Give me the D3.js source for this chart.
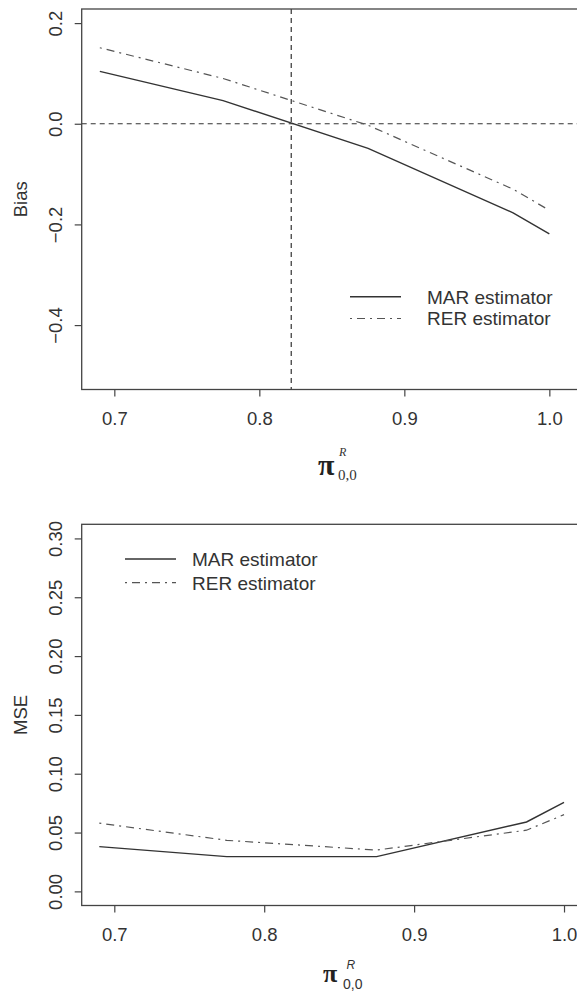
<!DOCTYPE html>
<html>
<head>
<meta charset="utf-8">
<script src="https://cdn.jsdelivr.net/npm/d3@7"></script>
<style>
  body { margin: 0; background: #fff; overflow: hidden; }
  svg { display: block; }
  .tick text { font-family: "Liberation Sans", Arial, sans-serif; font-size: 18.5px; fill: #333; }
  .tick line { stroke: #444; stroke-width: 1.2; }
</style>
</head>
<body>
<div id="chart"></div>
<script>
// values
var piValues = [0.69, 0.775, 0.875, 0.975, 1.0];
var biasMAR = [0.104, 0.046, -0.049, -0.177, -0.219];
var biasRER = [0.151, 0.090, -0.003, -0.130, -0.172];
var mseMAR = [0.038, 0.0295, 0.0295, 0.059, 0.0757];
var mseRER = [0.058, 0.0434, 0.0351, 0.052, 0.0652];
var biasRefX = 0.822;
var biasRefY = 0;
var xTicks = [0.7, 0.8, 0.9, 1.0];
var biasTicks = [-0.4, -0.2, 0.0, 0.2];
var mseTicks = [0.00, 0.05, 0.10, 0.15, 0.20, 0.25, 0.30];
var seriesNames = ["MAR estimator", "RER estimator"];

var W = 577, H = 994;
var svg = d3.select("#chart").append("svg")
    .attr("width", W)
    .attr("height", H);

var solidStyle = { stroke: "#333", width: 1.4, dash: null };
var dotDashStyle = { stroke: "#555", width: 1.2, dash: "2,5,8,5" };

function drawPanel(p) {
    var g = svg.append("g");
    var x = p.x, y = p.y;
    var x0 = x.range()[0], x1 = x.range()[1];
    var yb = y.range()[0], yt = y.range()[1];

    // x axis
    g.append("g")
        .attr("transform", "translate(0," + yb + ")")
        .call(d3.axisBottom(x).tickValues(xTicks).tickSize(7).tickPadding(15)
            .tickFormat(d3.format(".1f")))
        .call(function (a) { a.select(".domain").remove(); });

    // y axis, labels rotated like R's default
    var ya = g.append("g")
        .attr("transform", "translate(" + x0 + ",0)")
        .call(d3.axisLeft(y).tickValues(p.yTicks).tickSize(7).tickFormat(p.yFormat))
        .call(function (a) { a.select(".domain").remove(); });
    ya.selectAll(".tick text")
        .attr("x", null).attr("dy", null)
        .attr("text-anchor", "middle")
        .attr("transform", "translate(-20,0) rotate(-90)");

    // reference lines
    if (p.refX != null) {
        g.append("line")
            .attr("x1", x(p.refX)).attr("x2", x(p.refX))
            .attr("y1", yt).attr("y2", yb)
            .attr("stroke", "#333").attr("stroke-width", 1.2)
            .attr("stroke-dasharray", "5,4");
    }
    if (p.refY != null) {
        g.append("line")
            .attr("x1", x0).attr("x2", x1)
            .attr("y1", y(p.refY)).attr("y2", y(p.refY))
            .attr("stroke", "#333").attr("stroke-width", 1.2)
            .attr("stroke-dasharray", "5,4");
    }

    var line = d3.line()
        .x(function (d) { return x(d[0]); })
        .y(function (d) { return y(d[1]); });

    p.series.forEach(function (s) {
        g.append("path")
            .datum(piValues.map(function (v, i) { return [v, s.values[i]]; }))
            .attr("fill", "none")
            .attr("stroke", s.style.stroke)
            .attr("stroke-width", s.style.width)
            .attr("stroke-dasharray", s.style.dash)
            .attr("d", line);
    });

    // frame (right side runs off the page, as in the cropped original)
    g.append("rect")
        .attr("x", x0).attr("y", yt)
        .attr("width", x1 - x0).attr("height", yb - yt)
        .attr("fill", "none").attr("stroke", "#444").attr("stroke-width", 1.3);

    // legend
    p.series.forEach(function (s, i) {
        var ly = p.legend.y[i];
        g.append("line")
            .attr("x1", p.legend.x1).attr("x2", p.legend.x2)
            .attr("y1", ly).attr("y2", ly)
            .attr("stroke", s.style.stroke)
            .attr("stroke-width", s.style.width)
            .attr("stroke-dasharray", s.style.dash);
        g.append("text")
            .attr("x", p.legend.tx).attr("y", ly).attr("dy", "0.36em")
            .style("font-family", "'Liberation Sans', Arial, sans-serif")
            .style("font-size", "19px").style("fill", "#333")
            .text(s.name);
    });

    // y title
    g.append("text")
        .attr("transform", "translate(27," + ((yt + yb) / 2) + ") rotate(-90)")
        .attr("text-anchor", "middle")
        .style("font-family", "'Liberation Sans', Arial, sans-serif")
        .style("font-size", "18.5px").style("fill", "#333")
        .text(p.yTitle);

    // x title: pi with super/subscript
    var cx = (x0 + x1) / 2, lb = p.xLabel;
    g.append("text")
        .attr("x", cx + lb.pi[0]).attr("y", yb + lb.pi[1])
        .style("font-family", "'Liberation Serif', 'Times New Roman', serif")
        .style("font-weight", "bold")
        .style("font-size", lb.pi[2] + "px").style("fill", "#222")
        .text("\u03c0");
    g.append("text")
        .attr("x", cx + lb.sup[0]).attr("y", yb + lb.sup[1])
        .style("font-family", lb.font).style("font-style", "italic")
        .style("font-size", lb.sup[2] + "px").style("fill", "#333")
        .text("R");
    g.append("text")
        .attr("x", cx + lb.sub[0]).attr("y", yb + lb.sub[1])
        .style("font-family", lb.font)
        .style("font-size", lb.sub[2] + "px").style("fill", "#333")
        .text("0,0");
}

var minusFmt = function (d) { return d3.format(".1f")(d).replace("-", "\u2212"); };

drawPanel({
    x: d3.scaleLinear().domain([0.6775, 1.031]).range([81.7, 594.3]),
    y: d3.scaleLinear().domain([-0.528, 0.228]).range([389.5, 9]),
    yTicks: biasTicks,
    yFormat: minusFmt,
    refX: biasRefX,
    refY: biasRefY,
    series: [
        { name: seriesNames[0], values: biasMAR, style: solidStyle },
        { name: seriesNames[1], values: biasRER, style: dotDashStyle }
    ],
    legend: { x1: 350, x2: 401, tx: 427, y: [296.7, 318.5] },
    yTitle: "Bias",
    xLabel: {
        font: "'Liberation Serif', 'Times New Roman', serif",
        pi: [-20, 85.5, 30], sup: [1, 66.5, 12], sub: [0, 90, 15]
    }
});

drawPanel({
    x: d3.scaleLinear().domain([0.67825, 1.0202]).range([81.7, 594.3]),
    y: d3.scaleLinear().domain([-0.012, 0.312]).range([905.5, 524.3]),
    yTicks: mseTicks,
    yFormat: d3.format(".2f"),
    refX: null,
    refY: null,
    series: [
        { name: seriesNames[0], values: mseMAR, style: solidStyle },
        { name: seriesNames[1], values: mseRER, style: dotDashStyle }
    ],
    legend: { x1: 125, x2: 176, tx: 192, y: [559, 582.7] },
    yTitle: "MSE",
    xLabel: {
        font: "'Liberation Sans', Arial, sans-serif",
        pi: [-15, 76.5, 26], sup: [8.5, 63.5, 12], sub: [5, 83, 14]
    }
});
</script>
</body>
</html>
